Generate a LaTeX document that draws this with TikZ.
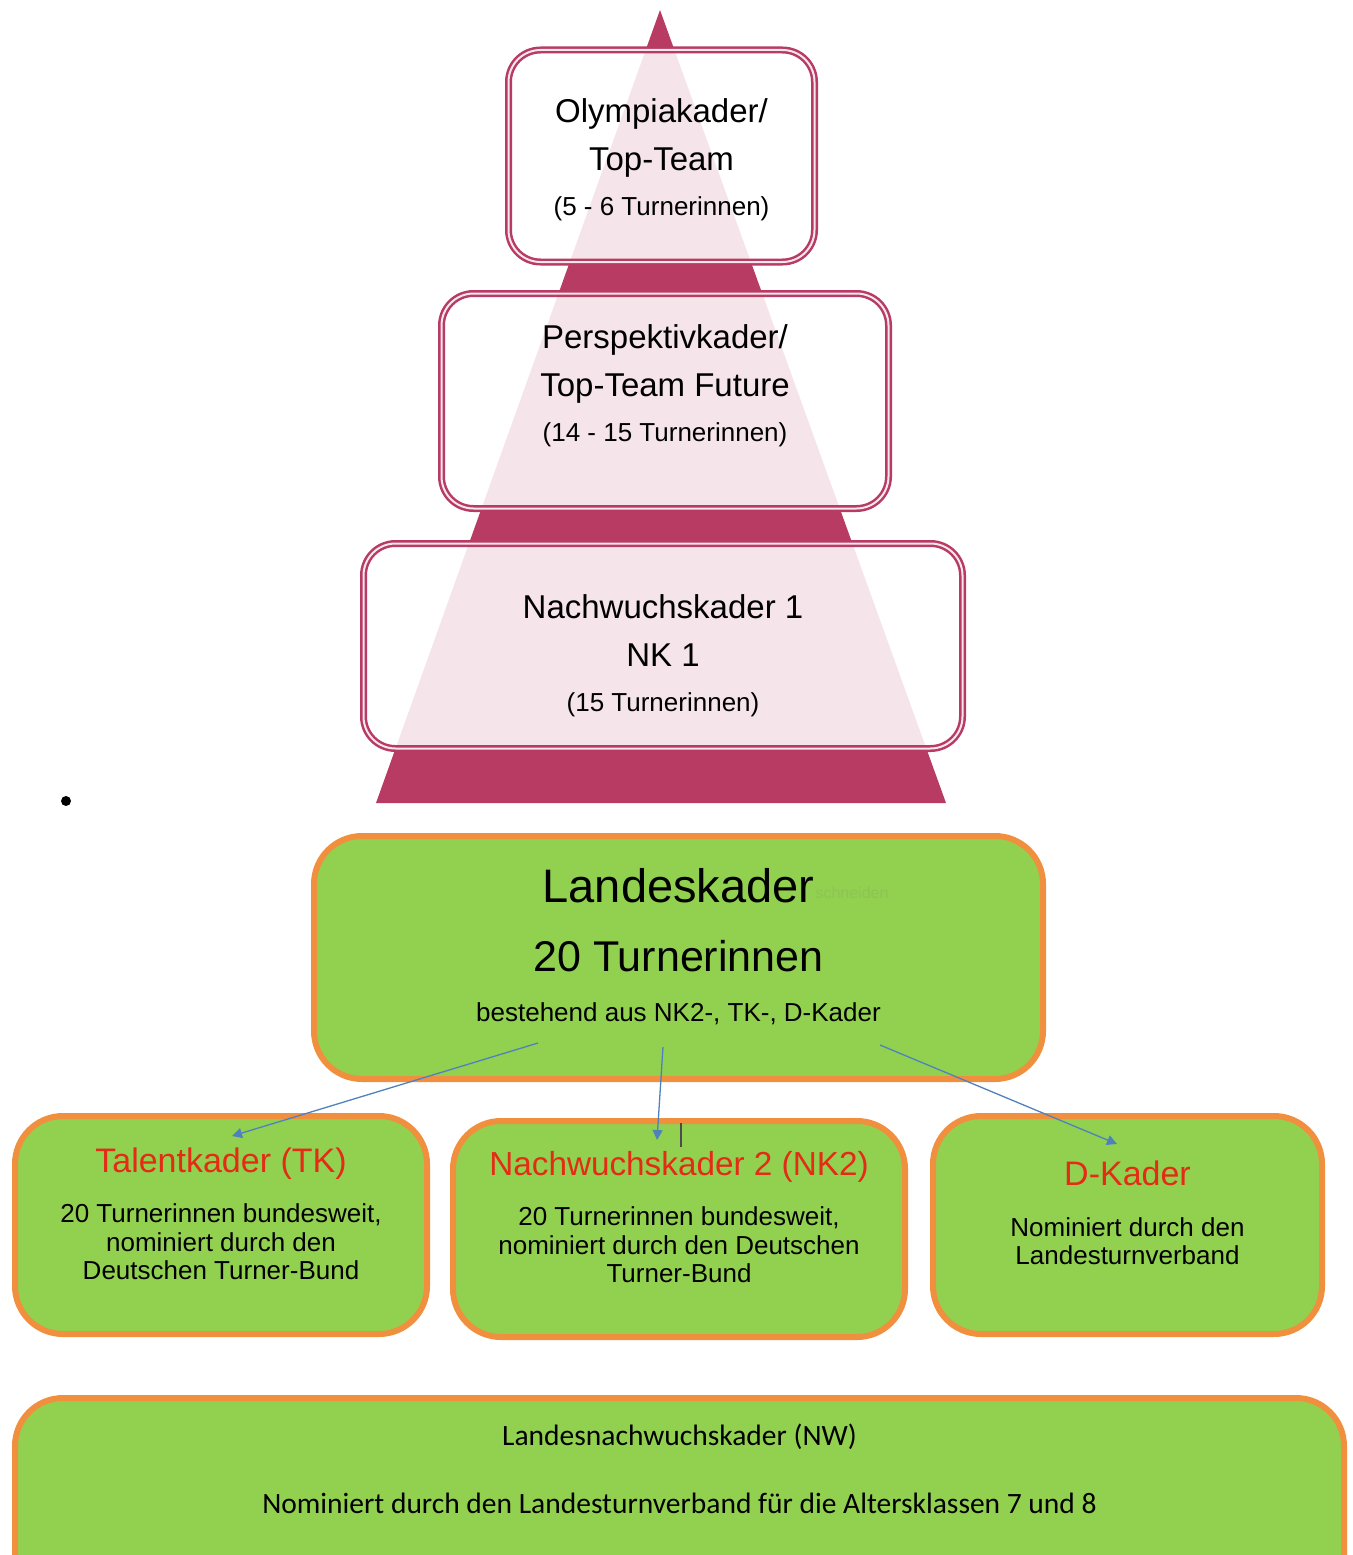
\documentclass[tikz,border=0pt]{standalone}
\usepackage{fontspec}
\setmainfont{Liberation Sans}
\newfontfamily\calibrifont{Carlito}
\usetikzlibrary{shapes, arrows.meta, positioning}

\definecolor{kaderpink}{HTML}{B83B64}
\definecolor{kadergreen}{HTML}{92D050}
\definecolor{kaderorange}{HTML}{F0903E}
\definecolor{kaderblue}{HTML}{4F81BD}
\definecolor{kaderred}{HTML}{E32B16}

\begin{document}
\begin{tikzpicture}[x=1pt, y=-1pt,
  pinkbox/.style={draw=kaderpink, double=white!88!kaderpink, double distance=2pt,
    line width=2.5pt, rounded corners=32pt, fill=white, fill opacity=0.87,
    text opacity=1, align=center, inner sep=0pt, font=\fontsize{33}{48}\selectfont},
  greenbox/.style={draw=kaderorange, line width=6pt, rounded corners=48pt,
    fill=kadergreen, align=center, inner sep=0pt},
  smallbox/.style={greenbox, font=\fontsize{26}{28.5}\selectfont},
  kaderarrow/.style={draw=kaderblue, line width=1.3pt,
    -{Triangle[length=10pt,width=10pt]}}]

  \useasboundingbox (0,0) rectangle (1352,1555);
  \clip (0,0) rectangle (1352,1555);

  % pyramid
  \fill[kaderpink] (660,10) -- (946,803) -- (376,803) -- cycle;

  \node[pinkbox, minimum width=306pt, minimum height=212pt, text height=125pt] (olymp) at (661.5,156)
    {Olympiakader/\\Top-Team\\[-3pt]\fontsize{26}{30}\selectfont (5 - 6 Turnerinnen)};
  \node[pinkbox, minimum width=447pt, minimum height=215pt, text depth=36pt] (persp) at (665,401)
    {Perspektivkader/\\Top-Team Future\\[-3pt]\fontsize{26}{30}\selectfont (14 - 15 Turnerinnen)};
  \node[pinkbox, minimum width=599pt, minimum height=205pt, text height=136pt] (nk1) at (663,646)
    {Nachwuchskader 1\\NK 1\\[-3pt]\fontsize{26}{30}\selectfont (15 Turnerinnen)};

  \node[circle, fill=black, inner sep=0pt, minimum size=10pt] (dot) at (66,801) {};

  % Landeskader
  \node[greenbox, minimum width=729pt, minimum height=243pt, text depth=26pt,
    font=\fontsize{43}{52}\selectfont] (land) at (678.5,957.5)
    {\fontsize{47}{54}\selectfont Landeskader\\[17pt]
     20 Turnerinnen\\[-2pt]
     \fontsize{26}{30}\selectfont bestehend aus NK2-, TK-, D-Kader};
  \node[text=kadergreen!82!gray, font=\fontsize{16}{20}\selectfont, anchor=west] (ghost)
    at (812,893) {schneiden};

  \node[smallbox, minimum width=412pt, minimum height=218pt, text depth=23pt] (tk) at (221,1225)
    {\fontsize{34}{40}\selectfont\color{kaderred}Talentkader (TK)\\[22pt]
     20 Turnerinnen bundesweit,\\nominiert durch den\\Deutschen Turner-Bund};
  \node[smallbox, minimum width=452pt, minimum height=216pt, text depth=24pt] (nk2) at (679,1229)
    {\fontsize{33.3}{40}\selectfont\color{kaderred}Nachwuchskader 2 (NK2)\\[22pt]
     20 Turnerinnen bundesweit,\\nominiert durch den Deutschen\\Turner-Bund};
  \node[smallbox, minimum width=389pt, minimum height=218pt, text depth=24pt] (dk) at (1127.5,1225)
    {\fontsize{34}{40}\selectfont\color{kaderred}D-Kader\\[22pt]
     Nominiert durch den\\Landesturnverband};

  \node[greenbox, minimum width=1329pt, minimum height=220pt, text depth=79pt,
    font=\calibrifont\fontsize{29.5}{35}\selectfont] (nw) at (679.5,1508)
    {Landesnachwuchskader (NW)\\[33pt]
     Nominiert durch den Landesturnverband für die Altersklassen 7 und 8};

  % arrows
  \coordinate (a1) at (538,1043);
  \coordinate (a2) at (663,1047);
  \coordinate (a3) at (880,1045);
  \coordinate (b1) at (232,1136);
  \coordinate (b2) at (657,1140);
  \coordinate (b3) at (1117,1144);
  \draw[kaderarrow] (a1) -- (b1);
  \draw[kaderarrow] (a2) -- (b2);
  \draw[kaderarrow] (a3) -- (b3);
  \coordinate (t1) at (681,1123);
  \coordinate (t2) at (681,1147);
  \draw[black!70, line width=1.2pt] (t1) -- (t2);
\end{tikzpicture}
\end{document}
